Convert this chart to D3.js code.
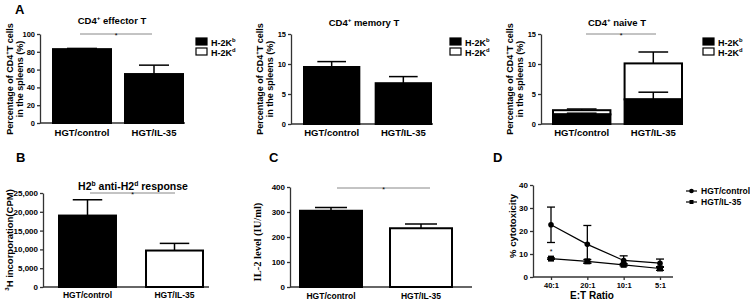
<!DOCTYPE html>
<html>
<head>
<meta charset="utf-8">
<script src="https://cdn.jsdelivr.net/npm/d3@7"></script>
<style>
body { margin: 0; background: #fff; }
svg { font-family: "Liberation Sans", Arial, sans-serif; font-weight: bold; }
</style>
</head>
<body>
<div id="chart"></div>
<script>
var groups = ["HGT/control", "HGT/IL-35"];

// panel A
var effectorMean = [83, 55];
var effectorErr = [0.8, 10];
var memoryMean = [9.5, 6.8];
var memoryErr = [0.9, 1.1];
var naiveKb = [1.6, 4.1];
var naiveKbErr = [0.2, 1.2];
var naiveKd = [0.7, 6.0];
var naiveTotalErr = [0.2, 1.9];

// panel B
var mlrMean = [19000, 9700];
var mlrErr = [4200, 1900];

// panel C
var il2Mean = [305, 235];
var il2Err = [13, 17];

// panel D
var ratios = ["40:1", "20:1", "10:1", "5:1"];
var ctlMean = [22.7, 14.2, 7.2, 6.0];
var ctlErr = [7.7, 8.2, 2.0, 1.8];
var il35Mean = [8.0, 6.8, 5.3, 3.7];
var il35Err = [0.3, 0.8, 0.5, 0.8];

var w = 750, h = 301;
var svg = d3.select("#chart").append("svg")
    .attr("width", w)
    .attr("height", h);

// text with superscript parts: [{s:"H2"},{s:"b",sup:true},...]
function supText(g, x, y, parts, size, anchor) {
    var t = g.append("text").attr("x", x).attr("y", y)
        .attr("font-size", size).attr("text-anchor", anchor || "start");
    var up = false;
    parts.forEach(function (p) {
        var ts = t.append("tspan").text(p.s);
        if (p.sup && !up) { ts.attr("dy", -size * 0.4).attr("font-size", size * 0.65); up = true; }
        else if (p.sup) { ts.attr("font-size", size * 0.65); }
        else if (up) { ts.attr("dy", size * 0.4); up = false; }
    });
    return t;
}

function yAxis(g, y, x0, ticks, fs) {
    var ax = g.append("g").attr("transform", "translate(" + x0 + ",0)")
        .call(d3.axisLeft(y).tickValues(ticks).tickSize(3).tickSizeOuter(0).tickPadding(2));
    ax.attr("font-family", null);
    ax.select(".domain").attr("stroke", "#333").attr("stroke-width", 1.3);
    ax.selectAll(".tick line").attr("stroke", "#333").attr("stroke-width", 1.3);
    ax.selectAll(".tick text").attr("font-size", fs).attr("fill", "#000");
}

function errBar(g, cx, cw, y1, y2) {
    g.append("line").attr("x1", cx).attr("x2", cx).attr("y1", y1).attr("y2", y2)
        .attr("stroke", "#000").attr("stroke-width", 1.5);
    g.append("line").attr("x1", cx - cw / 2).attr("x2", cx + cw / 2).attr("y1", y2).attr("y2", y2)
        .attr("stroke", "#000").attr("stroke-width", 1.5);
}

function barPanel(o) {
    var g = svg.append("g");
    var y = d3.scaleLinear().domain([0, o.max]).range([o.yBot, o.yTop]);
    var x = d3.scaleBand().domain(groups).range(o.barRange).paddingInner(o.pad);

    yAxis(g, y, o.x0, o.ticks, o.tickFs);

    g.append("line").attr("x1", o.x0).attr("x2", o.x1).attr("y1", o.yBot).attr("y2", o.yBot)
        .attr("stroke", "#333").attr("stroke-width", 1.3);

    g.selectAll("text.cat").data(groups).enter().append("text")
        .attr("class", "cat")
        .attr("x", function (d) { return x(d) + x.bandwidth() / 2; })
        .attr("y", o.catY)
        .attr("text-anchor", "middle")
        .attr("font-size", o.catFs)
        .text(function (d) { return d; });

    o.layers.forEach(function (L) {
        var base = L.base || [0, 0];
        groups.forEach(function (gr, i) {
            var top = base[i] + L.vals[i];
            var cx = x(gr) + x.bandwidth() / 2;
            var fill = typeof L.fill === "function" ? L.fill(i) : L.fill;
            if (L.err[i] > 0) errBar(g, cx, x.bandwidth() * 0.5, y(top), y(top + L.err[i]));
            g.append("rect")
                .attr("x", x(gr) + 1)
                .attr("width", x.bandwidth() - 2)
                .attr("y", y(top))
                .attr("height", y(base[i]) - y(top))
                .attr("fill", fill)
                .attr("stroke", "#000")
                .attr("stroke-width", 2);
        });
    });
    if (o.innerErr) {
        var L = o.innerErr;
        groups.forEach(function (gr, i) {
            var cx = x(gr) + x.bandwidth() / 2;
            errBar(g, cx, x.bandwidth() * 0.5, y(L.vals[i]), y(L.vals[i] + L.err[i]));
        });
    }

    if (o.sig) {
        g.append("line").attr("x1", o.sig[0]).attr("x2", o.sig[1]).attr("y1", o.sig[2]).attr("y2", o.sig[2])
            .attr("stroke", "#888").attr("stroke-width", 1);
        g.append("text").attr("x", (o.sig[0] + o.sig[1]) / 2).attr("y", o.sig[2] + 4)
            .attr("text-anchor", "middle").attr("font-size", 7).style("font-weight", "normal").text("*");
    }
    return g;
}

function legendA(g, x, y) {
    var items = [{ fill: "#000", sup: "b" }, { fill: "#fff", sup: "d" }];
    items.forEach(function (it, i) {
        g.append("rect").attr("x", x).attr("y", y + i * 10).attr("width", 11).attr("height", 7)
            .attr("fill", it.fill).attr("stroke", "#000").attr("stroke-width", 1.2);
        supText(g, x + 15, y + i * 10 + 7.5, [{ s: "H-2K" }, { s: it.sup, sup: true }], 9);
    });
}

function yLabelA(g, x1, x2, yc) {
    g.append("g").attr("transform", "translate(" + x1 + "," + yc + ") rotate(-90)")
        .call(function (s) {
            supText(s, 0, 0, [{ s: "Percentage of CD4" }, { s: "+", sup: true }, { s: "T cells" }], 9, "middle");
        });
    g.append("text").attr("transform", "translate(" + x2 + "," + yc + ") rotate(-90)")
        .attr("text-anchor", "middle").attr("font-size", 9).text("in the spleens (%)");
}

// ---- A1 effector
var gA1 = barPanel({
    x0: 40, x1: 185, yTop: 34, yBot: 123, max: 100, ticks: [0, 20, 40, 60, 80, 100], tickFs: 7.5,
    barRange: [52, 184], pad: 0.1667, catY: 136, catFs: 9.5,
    layers: [{ vals: effectorMean, err: effectorErr, fill: "#000" }],
    sig: [80, 152, 34]
});
supText(gA1, 112, 24, [{ s: "CD4" }, { s: "+", sup: true }, { s: " effector T" }], 9.5, "middle");
yLabelA(gA1, 13, 23, 79);
legendA(gA1, 196, 38);
gA1.append("text").attr("x", 15).attr("y", 14).attr("font-size", 13).text("A");

// ---- A2 memory
var gA2 = barPanel({
    x0: 291, x1: 433, yTop: 34, yBot: 124, max: 15, ticks: [0, 5, 10, 15], tickFs: 7.5,
    barRange: [303, 432], pad: 0.2, catY: 136, catFs: 9.5,
    layers: [{ vals: memoryMean, err: memoryErr, fill: "#000" }]
});
supText(gA2, 364, 26, [{ s: "CD4" }, { s: "+", sup: true }, { s: " memory T" }], 9.5, "middle");
yLabelA(gA2, 263, 273, 79);
legendA(gA2, 450, 38);

// ---- A3 naive (stacked)
var gA3 = barPanel({
    x0: 541, x1: 683, yTop: 34, yBot: 124, max: 15, ticks: [0, 5, 10, 15], tickFs: 7.5,
    barRange: [552, 683], pad: 0.17, catY: 136, catFs: 9.5,
    layers: [
        { vals: naiveKd, base: naiveKb, err: naiveTotalErr, fill: "#fff" },
        { vals: naiveKb, err: [0, 0], fill: "#000" }
    ],
    innerErr: { vals: naiveKb, err: naiveKbErr },
    sig: [586, 656, 34]
});
supText(gA3, 617, 26, [{ s: "CD4" }, { s: "+", sup: true }, { s: " naive T" }], 9.5, "middle");
yLabelA(gA3, 513, 523, 79);
legendA(gA3, 703, 38);

// ---- B
var gB = barPanel({
    x0: 43, x1: 209, yTop: 193, yBot: 287, max: 25000, ticks: [0, 5000, 10000, 15000, 20000, 25000], tickFs: 8,
    barRange: [58, 204], pad: 0.322, catY: 298, catFs: 8.5,
    layers: [{ vals: mlrMean, err: mlrErr, fill: function (i) { return i === 0 ? "#000" : "#fff"; } }],
    sig: [90, 175, 193]
});
supText(gB, 133, 190, [{ s: "H2" }, { s: "b", sup: true }, { s: " anti-H2" }, { s: "d", sup: true }, { s: " response" }], 10.5, "middle");
gB.append("g").attr("transform", "translate(13,240) rotate(-90)").call(function (s) {
    supText(s, 0, 0, [{ s: "3", sup: true }, { s: "H incorporation(CPM)" }], 9.5, "middle");
});
gB.append("text").attr("x", 16).attr("y", 162).attr("font-size", 13).text("B");

// ---- C
var gC = barPanel({
    x0: 290, x1: 472, yTop: 187, yBot: 287, max: 400, ticks: [0, 100, 200, 300, 400], tickFs: 8,
    barRange: [299, 453], pad: 0.289, catY: 299, catFs: 8.5,
    layers: [{ vals: il2Mean, err: il2Err, fill: function (i) { return i === 0 ? "#000" : "#fff"; } }],
    sig: [337, 430, 188]
});
gC.append("text").attr("transform", "translate(261,242) rotate(-90)")
    .attr("text-anchor", "middle").attr("font-size", 10.5)
    .style("font-family", "'Liberation Serif', 'Times New Roman', serif")
    .text("IL-2 level (IU/ml)");
gC.append("text").attr("x", 269).attr("y", 162).attr("font-size", 13).text("C");

// ---- D line chart
var gD = svg.append("g");
gD.append("text").attr("x", 493).attr("y", 162).attr("font-size", 13).text("D");
var xD = d3.scalePoint().domain(ratios).range([551, 660]);
var yD = d3.scaleLinear().domain([0, 40]).range([277, 185]);
yAxis(gD, yD, 533, [0, 10, 20, 30, 40], 8);
var xa = gD.append("g").attr("transform", "translate(0,277)")
    .call(d3.axisBottom(xD).tickSize(3).tickSizeOuter(0).tickPadding(3));
xa.attr("font-family", null);
xa.select(".domain").remove();
xa.selectAll(".tick line").attr("stroke", "#333").attr("stroke-width", 1.3);
xa.selectAll(".tick text").attr("font-size", 7.5).attr("fill", "#000");
gD.append("line").attr("x1", 533).attr("x2", 673).attr("y1", 277).attr("y2", 277)
    .attr("stroke", "#333").attr("stroke-width", 1.3);

var line = d3.line().x(function (d, i) { return xD(ratios[i]); }).y(function (d) { return yD(d); });
[{ m: ctlMean, e: ctlErr }, { m: il35Mean, e: il35Err }].forEach(function (s, k) {
    gD.append("path").attr("d", line(s.m)).attr("fill", "none").attr("stroke", "#000").attr("stroke-width", 1.2);
    s.m.forEach(function (v, i) {
        var cx = xD(ratios[i]);
        var lo = yD(v - s.e[i]), hi = yD(v + s.e[i]);
        gD.append("line").attr("x1", cx).attr("x2", cx).attr("y1", lo).attr("y2", hi)
            .attr("stroke", "#000").attr("stroke-width", 1.3);
        [lo, hi].forEach(function (yy) {
            gD.append("line").attr("x1", cx - 4).attr("x2", cx + 4).attr("y1", yy).attr("y2", yy)
                .attr("stroke", "#000").attr("stroke-width", 1.3);
        });
        if (k === 0) {
            gD.append("circle").attr("cx", cx).attr("cy", yD(v)).attr("r", 2.8).attr("fill", "#000");
        } else {
            gD.append("rect").attr("x", cx - 3).attr("y", yD(v) - 3).attr("width", 6).attr("height", 6).attr("fill", "#000");
        }
    });
});
gD.append("text").attr("x", xD("40:1")).attr("y", 254).attr("text-anchor", "middle")
    .attr("font-size", 7).style("font-weight", "normal").text("*");
gD.append("text").attr("transform", "translate(516,226) rotate(-90)")
    .attr("text-anchor", "middle").attr("font-size", 9.5).text("% cytotoxicity");
gD.append("text").attr("x", 592).attr("y", 299).attr("text-anchor", "middle")
    .attr("font-size", 10).text("E:T Ratio");

// legend D
["HGT/control", "HGT/IL-35"].forEach(function (name, i) {
    var ly = 191 + i * 11;
    gD.append("line").attr("x1", 686).attr("x2", 697).attr("y1", ly).attr("y2", ly)
        .attr("stroke", "#000").attr("stroke-width", 1.2);
    if (i === 0) gD.append("circle").attr("cx", 691.5).attr("cy", ly).attr("r", 2.3).attr("fill", "#000");
    else gD.append("rect").attr("x", 689.5).attr("y", ly - 2).attr("width", 4).attr("height", 4).attr("fill", "#000");
    gD.append("text").attr("x", 701).attr("y", ly + 3).attr("font-size", 8.5).text(name);
});
</script>
</body>
</html>
